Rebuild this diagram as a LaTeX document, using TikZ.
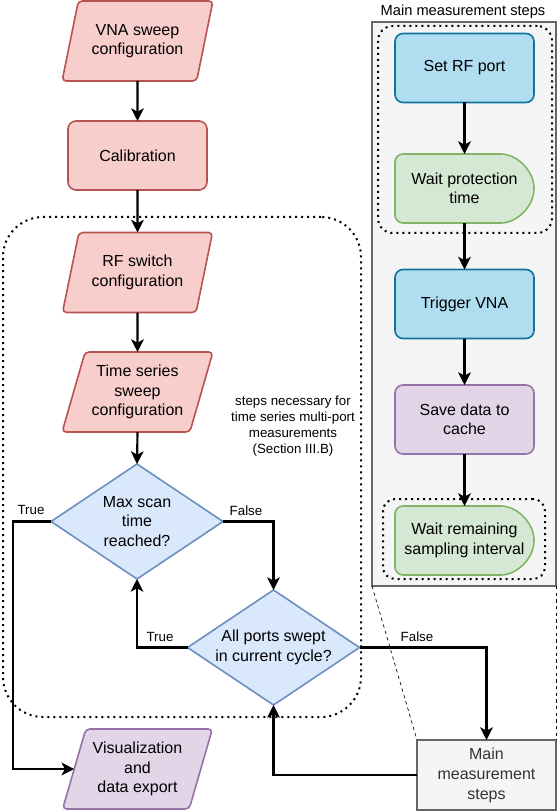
\documentclass[tikz,border=0pt]{standalone}
\usepackage{fontspec}
\setmainfont{Liberation Sans}
\usetikzlibrary{shapes.geometric,arrows.meta}
\definecolor{redF}{HTML}{F8CECC}\definecolor{redS}{HTML}{B85450}
\definecolor{bluF}{HTML}{DAE8FC}\definecolor{bluS}{HTML}{6C8EBF}
\definecolor{purF}{HTML}{E1D5E7}\definecolor{purS}{HTML}{9673A6}
\definecolor{cyaF}{HTML}{B1DDF0}\definecolor{cyaS}{HTML}{10739E}
\definecolor{grnF}{HTML}{D5E8D4}\definecolor{grnS}{HTML}{82B366}
\definecolor{gryF}{HTML}{F5F5F5}\definecolor{gryS}{HTML}{666666}
\definecolor{gryT}{HTML}{333333}
\begin{document}
\begin{tikzpicture}[x=0.75pt,y=-0.75pt,
  base/.style={align=center, font=\fontsize{12pt}{14.5pt}\selectfont, line width=1.2pt, inner sep=0pt, outer sep=0pt},
  para/.style={base, trapezium, trapezium left angle=69.44, trapezium right angle=110.56, trapezium stretches=true, minimum width=151*0.75pt, minimum height=80*0.75pt, rounded corners=3pt},
  redpara/.style={para, draw=redS, fill=redF},
  purpara/.style={para, draw=purS, fill=purF},
  rbox/.style={base, rectangle, rounded corners=6pt, minimum width=139*0.75pt, minimum height=69*0.75pt},
  redbox/.style={rbox, draw=redS, fill=redF},
  cyabox/.style={rbox, draw=cyaS, fill=cyaF},
  purbox/.style={rbox, draw=purS, fill=purF},
  delaypath/.style={line width=1.2pt, draw=grnS, fill=grnF, rounded corners=6pt},
  delaynode/.style={base, rectangle, minimum width=139*0.75pt, minimum height=69*0.75pt},
  dia/.style={base, diamond, draw=bluS, fill=bluF, minimum width=172*0.75pt, minimum height=115*0.75pt},
  diatext/.style={base, align=center},
  dotbox/.style={draw=black, line width=1.5pt, dash pattern=on 1.5pt off 3pt, inner sep=0pt, outer sep=0pt},
  panelbox/.style={rectangle, draw=gryS, fill=gryF, line width=1.1pt, inner sep=0pt, outer sep=0pt},
  mmbox/.style={base, rectangle, draw=gryS, fill=gryF, line width=1pt, text=gryT, font=\fontsize{12pt}{15pt}\selectfont, minimum width=139*0.75pt, minimum height=70*0.75pt},
  lbl/.style={font=\fontsize{10pt}{12pt}\selectfont, inner sep=0pt},
  conn/.style={line width=1.6pt, -{Stealth[length=9.5pt,width=9.5pt,inset=2.5pt]}},
  callout/.style={draw=black, line width=0.5pt, dash pattern=on 2.5pt off 2.5pt}
]
\useasboundingbox (0,0) rectangle (558,812);

% right panel and groups
\node[panelbox, minimum width=184*0.75pt, minimum height=564*0.75pt] (panel) at (464,304) {};
\node[font=\fontsize{11pt}{13pt}\selectfont, inner sep=0pt] (title) at (463,12) {Main measurement steps};
\node[dotbox, rounded corners=11pt, minimum width=174*0.75pt, minimum height=207*0.75pt] (grp1) at (465,129.5) {};
\node[dotbox, rounded corners=9pt, minimum width=162*0.75pt, minimum height=80*0.75pt] (grp2) at (464,539) {};
\node[dotbox, rounded corners=30pt, minimum width=358*0.75pt, minimum height=500*0.75pt] (big) at (182,467) {};

% left column
\node[redpara] (vna) at (137.5,41) {VNA sweep\\configuration};
\node[redbox] (cal) at (137.5,155.5) {Calibration};
\node[redpara] (rfs) at (137.5,272.5) {RF switch\\configuration};
\node[redpara] (tss) at (137.5,392) {Time series\\sweep\\configuration};
\node[dia] (d1) at (137,521.5) {};
\node[diatext] (d1t) at (d1.center) {Max scan\\time\\reached?};
\node[dia] (d2) at (273.5,647.5) {};
\node[diatext] (d2t) at (d2.center) {All ports swept\\in current cycle?};
\node[purpara] (vis) at (137.5,769) {Visualization\\and\\data export};
\node[mmbox] (mm) at (486.5,775) {Main\\measurement\\steps};
\node[align=center, font=\fontsize{10pt}{12pt}\selectfont, inner sep=0pt] (note) at (293,426) {steps necessary for\\time series multi-port\\measurements\\(Section III.B)};

% right column
\node[cyabox] (rfp) at (464.5,68) {Set RF port};
\draw[delaypath] (395,188.5) -- (395,154) -- (493,154) arc[start angle=-90,end angle=90,x radius=41,y radius=34.5] -- (395,223) -- cycle;
\node[delaynode] (w1) at (464.5,188.5) {Wait protection\\time};
\node[cyabox] (trig) at (464.5,304) {Trigger VNA};
\node[purbox] (save) at (464.5,419.5) {Save data to\\cache};
\draw[delaypath] (395,540.5) -- (395,506) -- (493,506) arc[start angle=-90,end angle=90,x radius=41,y radius=34.5] -- (395,575) -- cycle;
\node[delaynode] (w2) at (464.5,540.5) {Wait remaining\\sampling interval};

% callout lines
\draw[callout] (panel.south west) -- (mm.north west);
\draw[callout] (panel.south east) -- (mm.north east);

% connectors
\draw[conn] (vna.south) -- (cal.north);
\draw[conn] (cal.south) -- (rfs.north);
\draw[conn] (rfs.south) -- (tss.north);
\draw[conn] (tss.south) -- (d1.north);
\draw[conn] (d1.east) -| (d2.north);
\draw[conn] (d2.west) -| (d1.south);
\coordinate (tl) at (13,521.5);
\draw[conn] (d1.west) -- (tl) |- (vis.left side);
\draw[conn] (d2.east) -| (mm.north);
\draw[conn] (mm.west) -| (d2.south);

\draw[conn] (rfp.south) -- (w1.north);
\draw[conn] (w1.south) -- (trig.north);
\draw[conn] (trig.south) -- (save.north);
\draw[conn] (save.south) -- (w2.north);

% labels
\node[lbl] (t1) at (31,510) {True};
\node[lbl] (f1) at (246,511) {False};
\node[lbl] (t2) at (160,637) {True};
\node[lbl] (f2) at (417,637) {False};
\end{tikzpicture}
\end{document}
